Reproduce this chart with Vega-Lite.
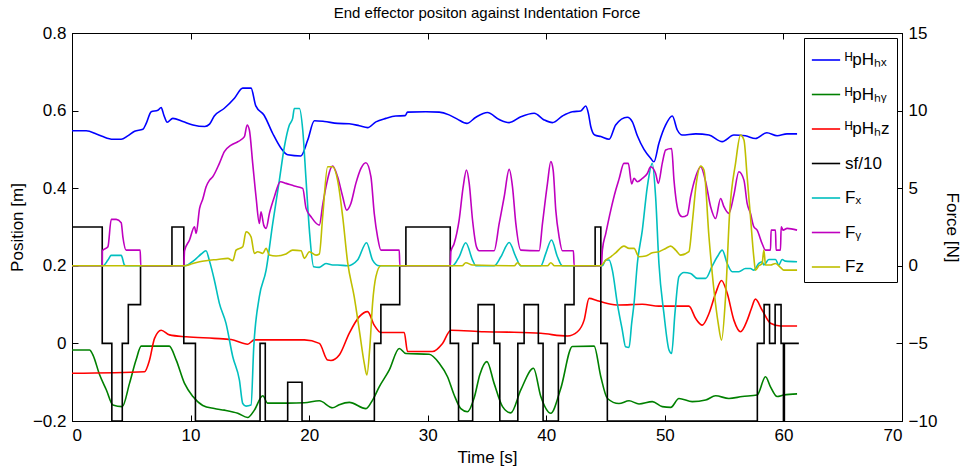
{
"$schema": "https://vega.github.io/schema/vega-lite/v6.json",
"width": 830, "height": 388,
"autosize": {"type": "none"},
"padding": {"left": 72, "top": 33, "right": 62, "bottom": 49},
"background": "white",
"title": {"text": "End effector positon against Indentation Force", "font": "Liberation Sans", "fontSize": 15, "fontWeight": "normal", "color": "black", "offset": 3},
"config": {
 "view": {"stroke": "black", "strokeWidth": 1},
 "axis": {"grid": false, "domainColor": "black", "tickColor": "black", "labelColor": "black", "titleColor": "black", "labelFont": "Liberation Sans", "titleFont": "Liberation Sans", "labelFontSize": 17, "titleFontSize": 17, "titleFontWeight": "normal", "tickSize": -6, "labelPadding": 12},
 "legend": {"labelFont": "Liberation Sans"},
 "line": {"strokeWidth": 1.6}
},
"datasets": {
"pos": [
{"s":"hx","t":0,"v":0.548},{"s":"hx","t":1.2,"v":0.548},{"s":"hx","t":2.05,"v":0.54},{"s":"hx","t":2.6,"v":0.533},{"s":"hx","t":3.45,"v":0.526},{"s":"hx","t":4.15,"v":0.526},{"s":"hx","t":4.7,"v":0.535},{"s":"hx","t":5.28,"v":0.547},{"s":"hx","t":5.98,"v":0.552},{"s":"hx","t":6.26,"v":0.567},{"s":"hx","t":6.68,"v":0.597},{"s":"hx","t":7.24,"v":0.601},{"s":"hx","t":7.52,"v":0.608},{"s":"hx","t":7.75,"v":0.588},{"s":"hx","t":8.03,"v":0.57},{"s":"hx","t":8.5,"v":0.58},{"s":"hx","t":9.35,"v":0.572},{"s":"hx","t":10.2,"v":0.563},{"s":"hx","t":11.2,"v":0.559},{"s":"hx","t":11.6,"v":0.565},{"s":"hx","t":12.0,"v":0.586},{"s":"hx","t":12.85,"v":0.606},{"s":"hx","t":13.7,"v":0.632},{"s":"hx","t":14.4,"v":0.658},{"s":"hx","t":15.1,"v":0.658},{"s":"hx","t":15.5,"v":0.612},{"s":"hx","t":16.2,"v":0.588},{"s":"hx","t":16.93,"v":0.541},{"s":"hx","t":17.63,"v":0.503},{"s":"hx","t":18.19,"v":0.486},{"s":"hx","t":19.3,"v":0.483},{"s":"hx","t":19.88,"v":0.524},{"s":"hx","t":20.44,"v":0.574},{"s":"hx","t":21.28,"v":0.572},{"s":"hx","t":22.4,"v":0.567},{"s":"hx","t":23.38,"v":0.566},{"s":"hx","t":24.23,"v":0.561},{"s":"hx","t":24.93,"v":0.556},{"s":"hx","t":25.63,"v":0.571},{"s":"hx","t":26.47,"v":0.58},{"s":"hx","t":27.3,"v":0.586},{"s":"hx","t":28.1,"v":0.587},{"s":"hx","t":28.3,"v":0.596},{"s":"hx","t":29.84,"v":0.597},{"s":"hx","t":30.97,"v":0.596},{"s":"hx","t":31.8,"v":0.589},{"s":"hx","t":32.5,"v":0.578},{"s":"hx","t":33.3,"v":0.567},{"s":"hx","t":34.06,"v":0.583},{"s":"hx","t":35.04,"v":0.595},{"s":"hx","t":36.03,"v":0.577},{"s":"hx","t":36.87,"v":0.569},{"s":"hx","t":37.85,"v":0.584},{"s":"hx","t":38.98,"v":0.593},{"s":"hx","t":39.82,"v":0.576},{"s":"hx","t":40.52,"v":0.569},{"s":"hx","t":41.36,"v":0.586},{"s":"hx","t":42.2,"v":0.597},{"s":"hx","t":42.9,"v":0.599},{"s":"hx","t":43.33,"v":0.612},{"s":"hx","t":43.55,"v":0.593},{"s":"hx","t":43.75,"v":0.559},{"s":"hx","t":44.09,"v":0.537},{"s":"hx","t":44.6,"v":0.533},{"s":"hx","t":45.3,"v":0.526},{"s":"hx","t":45.85,"v":0.563},{"s":"hx","t":46.83,"v":0.583},{"s":"hx","t":47.26,"v":0.571},{"s":"hx","t":47.68,"v":0.535},{"s":"hx","t":48.24,"v":0.5},{"s":"hx","t":48.8,"v":0.477},{"s":"hx","t":49.08,"v":0.468},{"s":"hx","t":49.5,"v":0.516},{"s":"hx","t":50.07,"v":0.563},{"s":"hx","t":50.63,"v":0.586},{"s":"hx","t":51.05,"v":0.55},{"s":"hx","t":51.47,"v":0.537},{"s":"hx","t":52.6,"v":0.54},{"s":"hx","t":53.72,"v":0.537},{"s":"hx","t":54.84,"v":0.52},{"s":"hx","t":55.82,"v":0.537},{"s":"hx","t":56.8,"v":0.535},{"s":"hx","t":57.64,"v":0.528},{"s":"hx","t":58.6,"v":0.543},{"s":"hx","t":59.47,"v":0.535},{"s":"hx","t":60.3,"v":0.54},{"s":"hx","t":61.15,"v":0.54},
{"s":"hy","t":0,"v":-0.017},{"s":"hy","t":1.48,"v":-0.017},{"s":"hy","t":1.77,"v":-0.03},{"s":"hy","t":2.33,"v":-0.081},{"s":"hy","t":2.9,"v":-0.12},{"s":"hy","t":3.45,"v":-0.159},{"s":"hy","t":4.24,"v":-0.163},{"s":"hy","t":4.85,"v":-0.103},{"s":"hy","t":5.4,"v":-0.043},{"s":"hy","t":5.84,"v":-0.007},{"s":"hy","t":8.2,"v":-0.007},{"s":"hy","t":8.79,"v":-0.043},{"s":"hy","t":9.49,"v":-0.103},{"s":"hy","t":10.2,"v":-0.137},{"s":"hy","t":11.03,"v":-0.16},{"s":"hy","t":12.0,"v":-0.168},{"s":"hy","t":12.85,"v":-0.172},{"s":"hy","t":13.98,"v":-0.18},{"s":"hy","t":14.82,"v":-0.191},{"s":"hy","t":15.38,"v":-0.172},{"s":"hy","t":16.09,"v":-0.135},{"s":"hy","t":16.5,"v":-0.154},{"s":"hy","t":18.19,"v":-0.154},{"s":"hy","t":19.6,"v":-0.153},{"s":"hy","t":20.86,"v":-0.148},{"s":"hy","t":21.98,"v":-0.166},{"s":"hy","t":22.54,"v":-0.158},{"s":"hy","t":23.39,"v":-0.152},{"s":"hy","t":24.79,"v":-0.168},{"s":"hy","t":25.35,"v":-0.146},{"s":"hy","t":25.91,"v":-0.112},{"s":"hy","t":26.75,"v":-0.069},{"s":"hy","t":27.6,"v":-0.013},{"s":"hy","t":28.16,"v":-0.026},{"s":"hy","t":30.12,"v":-0.028},{"s":"hy","t":30.97,"v":-0.051},{"s":"hy","t":31.67,"v":-0.086},{"s":"hy","t":32.23,"v":-0.133},{"s":"hy","t":32.79,"v":-0.168},{"s":"hy","t":33.35,"v":-0.176},{"s":"hy","t":33.92,"v":-0.14},{"s":"hy","t":34.4,"v":-0.08},{"s":"hy","t":34.99,"v":-0.047},{"s":"hy","t":35.6,"v":-0.103},{"s":"hy","t":36.31,"v":-0.163},{"s":"hy","t":37.01,"v":-0.179},{"s":"hy","t":37.85,"v":-0.12},{"s":"hy","t":38.92,"v":-0.064},{"s":"hy","t":39.54,"v":-0.137},{"s":"hy","t":40.38,"v":-0.18},{"s":"hy","t":41.22,"v":-0.116},{"s":"hy","t":42.2,"v":-0.008},{"s":"hy","t":44.03,"v":-0.007},{"s":"hy","t":44.6,"v":-0.086},{"s":"hy","t":45.16,"v":-0.142},{"s":"hy","t":46.13,"v":-0.155},{"s":"hy","t":46.98,"v":-0.148},{"s":"hy","t":47.82,"v":-0.156},{"s":"hy","t":48.94,"v":-0.15},{"s":"hy","t":49.78,"v":-0.163},{"s":"hy","t":50.49,"v":-0.165},{"s":"hy","t":51.19,"v":-0.142},{"s":"hy","t":52.31,"v":-0.15},{"s":"hy","t":53.44,"v":-0.146},{"s":"hy","t":54.28,"v":-0.135},{"s":"hy","t":55.4,"v":-0.142},{"s":"hy","t":56.53,"v":-0.137},{"s":"hy","t":57.78,"v":-0.133},{"s":"hy","t":58.49,"v":-0.086},{"s":"hy","t":58.91,"v":-0.112},{"s":"hy","t":59.47,"v":-0.137},{"s":"hy","t":60.03,"v":-0.133},{"s":"hy","t":61.15,"v":-0.13},
{"s":"hz","t":0,"v":-0.077},{"s":"hz","t":6.12,"v":-0.073},{"s":"hz","t":6.54,"v":-0.043},{"s":"hz","t":6.96,"v":0.013},{"s":"hz","t":7.52,"v":0.034},{"s":"hz","t":8.22,"v":0.022},{"s":"hz","t":9.63,"v":0.017},{"s":"hz","t":12.0,"v":0.013},{"s":"hz","t":13.42,"v":0.01},{"s":"hz","t":14.82,"v":-0.002},{"s":"hz","t":15.38,"v":0.009},{"s":"hz","t":19.6,"v":0.009},{"s":"hz","t":20.86,"v":0},{"s":"hz","t":21.56,"v":-0.043},{"s":"hz","t":21.84,"v":-0.044},{"s":"hz","t":22.54,"v":-0.03},{"s":"hz","t":23.38,"v":0.026},{"s":"hz","t":24.23,"v":0.069},{"s":"hz","t":24.93,"v":0.082},{"s":"hz","t":25.49,"v":0.047},{"s":"hz","t":26.05,"v":0.028},{"s":"hz","t":28.02,"v":0.028},{"s":"hz","t":28.3,"v":-0.021},{"s":"hz","t":30.4,"v":-0.021},{"s":"hz","t":31.25,"v":0},{"s":"hz","t":31.95,"v":0.034},{"s":"hz","t":34.76,"v":0.03},{"s":"hz","t":36.73,"v":0.029},{"s":"hz","t":39.54,"v":0.026},{"s":"hz","t":41.79,"v":0.019},{"s":"hz","t":42.63,"v":0.03},{"s":"hz","t":43.19,"v":0.06},{"s":"hz","t":43.61,"v":0.116},{"s":"hz","t":44.31,"v":0.11},{"s":"hz","t":45.16,"v":0.103},{"s":"hz","t":46.14,"v":0.099},{"s":"hz","t":48.1,"v":0.101},{"s":"hz","t":49.5,"v":0.096},{"s":"hz","t":52.03,"v":0.096},{"s":"hz","t":52.6,"v":0.064},{"s":"hz","t":53.16,"v":0.047},{"s":"hz","t":53.72,"v":0.077},{"s":"hz","t":54.28,"v":0.129},{"s":"hz","t":54.78,"v":0.162},{"s":"hz","t":55.26,"v":0.129},{"s":"hz","t":55.82,"v":0.06},{"s":"hz","t":56.38,"v":0.03},{"s":"hz","t":56.95,"v":0.06},{"s":"hz","t":57.3,"v":0.09},{"s":"hz","t":57.64,"v":0.114},{"s":"hz","t":58.2,"v":0.086},{"s":"hz","t":58.91,"v":0.052},{"s":"hz","t":59.75,"v":0.045},{"s":"hz","t":61.15,"v":0.045}
],
"sf": [
{"s":"sf","t":0,"v":0.3},{"s":"sf","t":2.55,"v":0},{"s":"sf","t":3.36,"v":-0.2},{"s":"sf","t":4.24,"v":0},{"s":"sf","t":4.75,"v":0.1},{"s":"sf","t":5.78,"v":0.2},{"s":"sf","t":8.43,"v":0.3},{"s":"sf","t":9.43,"v":0},{"s":"sf","t":10.41,"v":-0.2},{"s":"sf","t":15.86,"v":0},{"s":"sf","t":16.3,"v":-0.2},{"s":"sf","t":18.19,"v":-0.1},{"s":"sf","t":19.4,"v":-0.2},{"s":"sf","t":25.5,"v":0},{"s":"sf","t":26.05,"v":0.1},{"s":"sf","t":27.64,"v":0.2},{"s":"sf","t":28.16,"v":0.3},{"s":"sf","t":31.9,"v":0},{"s":"sf","t":32.6,"v":-0.2},{"s":"sf","t":33.79,"v":0},{"s":"sf","t":34.25,"v":0.1},{"s":"sf","t":35.6,"v":0},{"s":"sf","t":36.08,"v":-0.2},{"s":"sf","t":37.6,"v":0},{"s":"sf","t":38.13,"v":0.1},{"s":"sf","t":39.33,"v":0},{"s":"sf","t":39.73,"v":-0.2},{"s":"sf","t":41.02,"v":0},{"s":"sf","t":41.58,"v":0.1},{"s":"sf","t":42.34,"v":0.2},{"s":"sf","t":44.12,"v":0.3},{"s":"sf","t":44.6,"v":0},{"s":"sf","t":45.15,"v":-0.2},{"s":"sf","t":57.8,"v":0},{"s":"sf","t":58.37,"v":0.1},{"s":"sf","t":58.83,"v":0},{"s":"sf","t":59.3,"v":0.1},{"s":"sf","t":59.8,"v":0},{"s":"sf","t":60.0,"v":-0.2},{"s":"sf","t":60.08,"v":0},{"s":"sf","t":61.3,"v":0}
],
"force": [
{"s":"Fx","t":0,"v":0},{"s":"Fx","t":2.6,"v":0},{"s":"Fx","t":3.03,"v":0.37},{"s":"Fx","t":3.31,"v":0.67},{"s":"Fx","t":4.15,"v":0.67},{"s":"Fx","t":4.43,"v":0.05},{"s":"Fx","t":4.6,"v":0},{"s":"Fx","t":9.49,"v":0},{"s":"Fx","t":10.33,"v":0.37},{"s":"Fx","t":10.9,"v":0.76},{"s":"Fx","t":11.3,"v":0.97},{"s":"Fx","t":11.6,"v":0.3},{"s":"Fx","t":12.0,"v":-0.9},{"s":"Fx","t":12.43,"v":-2.42},{"s":"Fx","t":12.99,"v":-3.71},{"s":"Fx","t":13.56,"v":-5.86},{"s":"Fx","t":14.12,"v":-7.36},{"s":"Fx","t":14.4,"v":-8.87},{"s":"Fx","t":14.68,"v":-9.04},{"s":"Fx","t":15.1,"v":-8.97},{"s":"Fx","t":15.33,"v":-5.22},{"s":"Fx","t":15.8,"v":-1.99},{"s":"Fx","t":16.37,"v":-0.28},{"s":"Fx","t":16.93,"v":2.73},{"s":"Fx","t":17.49,"v":5.52},{"s":"Fx","t":17.91,"v":7.67},{"s":"Fx","t":18.33,"v":9.07},{"s":"Fx","t":18.61,"v":9.5},{"s":"Fx","t":18.75,"v":10.14},{"s":"Fx","t":19.18,"v":10.14},{"s":"Fx","t":19.46,"v":8.75},{"s":"Fx","t":19.74,"v":5.52},{"s":"Fx","t":20.02,"v":2.3},{"s":"Fx","t":20.38,"v":-0.06},{"s":"Fx","t":20.86,"v":-0.1},{"s":"Fx","t":21.42,"v":0.15},{"s":"Fx","t":21.98,"v":0.05},{"s":"Fx","t":22.4,"v":0.05},{"s":"Fx","t":23.24,"v":0},{"s":"Fx","t":24.08,"v":0.37},{"s":"Fx","t":24.84,"v":1.49},{"s":"Fx","t":25.35,"v":0.37},{"s":"Fx","t":25.91,"v":0},{"s":"Fx","t":32.09,"v":0},{"s":"Fx","t":32.65,"v":0.58},{"s":"Fx","t":33.21,"v":1.49},{"s":"Fx","t":33.78,"v":0.37},{"s":"Fx","t":34.06,"v":0},{"s":"Fx","t":35.6,"v":0},{"s":"Fx","t":36.17,"v":0.58},{"s":"Fx","t":36.87,"v":1.5},{"s":"Fx","t":37.43,"v":0.58},{"s":"Fx","t":37.85,"v":0},{"s":"Fx","t":39.54,"v":0},{"s":"Fx","t":39.96,"v":0.8},{"s":"Fx","t":40.44,"v":1.66},{"s":"Fx","t":40.94,"v":0.58},{"s":"Fx","t":41.36,"v":0},{"s":"Fx","t":44.73,"v":0},{"s":"Fx","t":45.02,"v":0.37},{"s":"Fx","t":45.3,"v":0.37},{"s":"Fx","t":45.57,"v":-0.28},{"s":"Fx","t":45.99,"v":-2.42},{"s":"Fx","t":46.41,"v":-4.14},{"s":"Fx","t":46.69,"v":-5.22},{"s":"Fx","t":46.98,"v":-5.26},{"s":"Fx","t":47.2,"v":-3.71},{"s":"Fx","t":47.4,"v":-2.42},{"s":"Fx","t":47.68,"v":0.15},{"s":"Fx","t":48.1,"v":2.3},{"s":"Fx","t":48.52,"v":5.09},{"s":"Fx","t":48.94,"v":6.6},{"s":"Fx","t":49.22,"v":4.45},{"s":"Fx","t":49.5,"v":0.15},{"s":"Fx","t":49.92,"v":-3.07},{"s":"Fx","t":50.35,"v":-5.43},{"s":"Fx","t":50.57,"v":-5.65},{"s":"Fx","t":50.85,"v":-3.07},{"s":"Fx","t":51.19,"v":-0.7},{"s":"Fx","t":51.61,"v":-0.43},{"s":"Fx","t":52.17,"v":-0.49},{"s":"Fx","t":52.73,"v":-0.81},{"s":"Fx","t":53.44,"v":-0.81},{"s":"Fx","t":54.0,"v":0},{"s":"Fx","t":54.42,"v":0.58},{"s":"Fx","t":54.84,"v":1.01},{"s":"Fx","t":55.26,"v":0.15},{"s":"Fx","t":55.68,"v":-0.38},{"s":"Fx","t":56.24,"v":-0.38},{"s":"Fx","t":56.8,"v":-0.17},{"s":"Fx","t":57.22,"v":-0.17},{"s":"Fx","t":57.5,"v":-0.28},{"s":"Fx","t":57.92,"v":0.15},{"s":"Fx","t":58.2,"v":0.26},{"s":"Fx","t":58.35,"v":0.05},{"s":"Fx","t":58.77,"v":0.41},{"s":"Fx","t":59.33,"v":0.41},{"s":"Fx","t":59.61,"v":0.05},{"s":"Fx","t":59.89,"v":0.41},{"s":"Fx","t":60.17,"v":0.3},{"s":"Fx","t":61.15,"v":0.26},
{"s":"Fy","t":0,"v":0},{"s":"Fy","t":2.55,"v":0},{"s":"Fy","t":2.56,"v":0.97},{"s":"Fy","t":3.03,"v":1.23},{"s":"Fy","t":3.31,"v":2.99},{"s":"Fy","t":3.73,"v":2.99},{"s":"Fy","t":4.15,"v":2.78},{"s":"Fy","t":4.29,"v":1.87},{"s":"Fy","t":4.57,"v":1.01},{"s":"Fy","t":5.75,"v":1.01},{"s":"Fy","t":5.8,"v":0},{"s":"Fy","t":9.43,"v":0},{"s":"Fy","t":9.49,"v":0.97},{"s":"Fy","t":9.91,"v":1.66},{"s":"Fy","t":10.33,"v":2.52},{"s":"Fy","t":10.47,"v":2.09},{"s":"Fy","t":10.76,"v":3.7},{"s":"Fy","t":11.03,"v":4.3},{"s":"Fy","t":11.31,"v":5.09},{"s":"Fy","t":11.6,"v":5.52},{"s":"Fy","t":11.87,"v":5.74},{"s":"Fy","t":12.43,"v":6.6},{"s":"Fy","t":12.85,"v":7.35},{"s":"Fy","t":13.42,"v":7.78},{"s":"Fy","t":13.98,"v":7.99},{"s":"Fy","t":14.54,"v":8.32},{"s":"Fy","t":14.77,"v":9.07},{"s":"Fy","t":14.96,"v":8.75},{"s":"Fy","t":15.24,"v":6.6},{"s":"Fy","t":15.52,"v":4.45},{"s":"Fy","t":15.8,"v":2.73},{"s":"Fy","t":15.94,"v":3.48},{"s":"Fy","t":16.17,"v":2.62},{"s":"Fy","t":16.37,"v":2.41},{"s":"Fy","t":16.65,"v":3.38},{"s":"Fy","t":17.07,"v":4.45},{"s":"Fy","t":17.57,"v":5.42},{"s":"Fy","t":18.05,"v":5.31},{"s":"Fy","t":18.75,"v":5.14},{"s":"Fy","t":19.46,"v":4.99},{"s":"Fy","t":19.74,"v":3.7},{"s":"Fy","t":20.16,"v":3.16},{"s":"Fy","t":20.86,"v":2.62},{"s":"Fy","t":21.14,"v":3.91},{"s":"Fy","t":21.42,"v":5.09},{"s":"Fy","t":21.98,"v":6.43},{"s":"Fy","t":22.4,"v":5.74},{"s":"Fy","t":22.83,"v":4.45},{"s":"Fy","t":23.16,"v":3.59},{"s":"Fy","t":23.52,"v":4.02},{"s":"Fy","t":23.94,"v":5.31},{"s":"Fy","t":24.37,"v":6.28},{"s":"Fy","t":24.79,"v":6.64},{"s":"Fy","t":25.21,"v":5.74},{"s":"Fy","t":25.49,"v":3.38},{"s":"Fy","t":25.77,"v":1.87},{"s":"Fy","t":26.05,"v":1.01},{"s":"Fy","t":27.6,"v":1.01},{"s":"Fy","t":27.65,"v":0},{"s":"Fy","t":31.9,"v":0},{"s":"Fy","t":31.95,"v":0.91},{"s":"Fy","t":32.23,"v":1.44},{"s":"Fy","t":32.65,"v":2.95},{"s":"Fy","t":32.99,"v":5.09},{"s":"Fy","t":33.27,"v":6.17},{"s":"Fy","t":33.5,"v":5.31},{"s":"Fy","t":33.78,"v":2.95},{"s":"Fy","t":34.11,"v":1.23},{"s":"Fy","t":34.34,"v":0.97},{"s":"Fy","t":35.6,"v":0.97},{"s":"Fy","t":36.03,"v":2.73},{"s":"Fy","t":36.45,"v":4.45},{"s":"Fy","t":36.87,"v":6.21},{"s":"Fy","t":37.15,"v":5.09},{"s":"Fy","t":37.43,"v":2.73},{"s":"Fy","t":37.85,"v":1.01},{"s":"Fy","t":39.4,"v":0.97},{"s":"Fy","t":39.68,"v":2.73},{"s":"Fy","t":40.1,"v":5.31},{"s":"Fy","t":40.38,"v":6.71},{"s":"Fy","t":40.58,"v":6.17},{"s":"Fy","t":40.8,"v":3.59},{"s":"Fy","t":41.08,"v":1.87},{"s":"Fy","t":41.36,"v":0.97},{"s":"Fy","t":42.29,"v":0.97},{"s":"Fy","t":42.35,"v":0},{"s":"Fy","t":44.65,"v":0},{"s":"Fy","t":44.73,"v":1.01},{"s":"Fy","t":45.02,"v":2.09},{"s":"Fy","t":45.44,"v":3.59},{"s":"Fy","t":45.86,"v":4.88},{"s":"Fy","t":46.14,"v":5.6},{"s":"Fy","t":46.55,"v":6.6},{"s":"Fy","t":46.92,"v":6.6},{"s":"Fy","t":47.2,"v":5.27},{"s":"Fy","t":47.4,"v":5.63},{"s":"Fy","t":47.68,"v":5.42},{"s":"Fy","t":48.1,"v":5.63},{"s":"Fy","t":48.52,"v":5.95},{"s":"Fy","t":48.8,"v":6.38},{"s":"Fy","t":49.22,"v":5.95},{"s":"Fy","t":49.45,"v":5.31},{"s":"Fy","t":49.78,"v":6.6},{"s":"Fy","t":50.07,"v":7.46},{"s":"Fy","t":50.57,"v":7.56},{"s":"Fy","t":50.77,"v":5.52},{"s":"Fy","t":51.19,"v":3.38},{"s":"Fy","t":51.47,"v":3.16},{"s":"Fy","t":51.89,"v":3.27},{"s":"Fy","t":52.17,"v":4.45},{"s":"Fy","t":52.6,"v":5.74},{"s":"Fy","t":53.02,"v":6.38},{"s":"Fy","t":53.44,"v":5.42},{"s":"Fy","t":53.86,"v":3.81},{"s":"Fy","t":54.28,"v":3.05},{"s":"Fy","t":54.7,"v":4.34},{"s":"Fy","t":54.98,"v":3.81},{"s":"Fy","t":55.4,"v":3.38},{"s":"Fy","t":55.82,"v":4.56},{"s":"Fy","t":56.24,"v":6.06},{"s":"Fy","t":56.67,"v":5.52},{"s":"Fy","t":56.94,"v":4.02},{"s":"Fy","t":57.22,"v":3.38},{"s":"Fy","t":57.5,"v":2.52},{"s":"Fy","t":57.78,"v":2.3},{"s":"Fy","t":58.2,"v":1.44},{"s":"Fy","t":58.49,"v":1.01},{"s":"Fy","t":58.91,"v":1.01},{"s":"Fy","t":58.96,"v":2.3},{"s":"Fy","t":59.33,"v":2.3},{"s":"Fy","t":59.38,"v":1.01},{"s":"Fy","t":59.75,"v":1.01},{"s":"Fy","t":59.81,"v":2.52},{"s":"Fy","t":59.97,"v":2.3},{"s":"Fy","t":60.31,"v":2.41},{"s":"Fy","t":61.15,"v":2.3},
{"s":"Fz","t":0,"v":0},{"s":"Fz","t":9.49,"v":0},{"s":"Fz","t":10.2,"v":0.15},{"s":"Fz","t":10.76,"v":0.26},{"s":"Fz","t":11.31,"v":0.33},{"s":"Fz","t":12.29,"v":0.41},{"s":"Fz","t":13.14,"v":0.48},{"s":"Fz","t":13.56,"v":0.33},{"s":"Fz","t":13.84,"v":1.01},{"s":"Fz","t":14.4,"v":1.23},{"s":"Fz","t":14.68,"v":2.19},{"s":"Fz","t":15.1,"v":1.87},{"s":"Fz","t":15.38,"v":0.8},{"s":"Fz","t":15.66,"v":0.91},{"s":"Fz","t":16.09,"v":0.8},{"s":"Fz","t":16.37,"v":1.12},{"s":"Fz","t":16.65,"v":0.69},{"s":"Fz","t":17.21,"v":0.63},{"s":"Fz","t":18.05,"v":0.76},{"s":"Fz","t":18.61,"v":1.01},{"s":"Fz","t":19.32,"v":0.97},{"s":"Fz","t":19.6,"v":0.48},{"s":"Fz","t":20.02,"v":0.91},{"s":"Fz","t":20.58,"v":0.69},{"s":"Fz","t":20.86,"v":0.76},{"s":"Fz","t":21.14,"v":3.16},{"s":"Fz","t":21.56,"v":6.38},{"s":"Fz","t":21.98,"v":6.38},{"s":"Fz","t":22.4,"v":5.52},{"s":"Fz","t":22.83,"v":3.16},{"s":"Fz","t":23.25,"v":0.2},{"s":"Fz","t":23.8,"v":-1.99},{"s":"Fz","t":24.23,"v":-4.14},{"s":"Fz","t":24.65,"v":-6.29},{"s":"Fz","t":24.87,"v":-7.04},{"s":"Fz","t":25.12,"v":-5.22},{"s":"Fz","t":25.35,"v":-2.42},{"s":"Fz","t":25.63,"v":-0.7},{"s":"Fz","t":26.05,"v":0},{"s":"Fz","t":32.9,"v":0},{"s":"Fz","t":33.21,"v":0.2},{"s":"Fz","t":33.78,"v":0.05},{"s":"Fz","t":37.3,"v":0},{"s":"Fz","t":37.57,"v":0.2},{"s":"Fz","t":37.9,"v":0},{"s":"Fz","t":40.1,"v":0},{"s":"Fz","t":40.38,"v":0.2},{"s":"Fz","t":40.7,"v":0},{"s":"Fz","t":44.6,"v":0},{"s":"Fz","t":45.02,"v":0.37},{"s":"Fz","t":45.44,"v":0.58},{"s":"Fz","t":45.85,"v":0.84},{"s":"Fz","t":46.55,"v":1.27},{"s":"Fz","t":46.98,"v":1.12},{"s":"Fz","t":47.4,"v":1.12},{"s":"Fz","t":47.82,"v":0.58},{"s":"Fz","t":48.38,"v":0.63},{"s":"Fz","t":48.94,"v":0.84},{"s":"Fz","t":49.5,"v":0.91},{"s":"Fz","t":50.07,"v":1.12},{"s":"Fz","t":50.49,"v":1.27},{"s":"Fz","t":50.91,"v":1.01},{"s":"Fz","t":51.33,"v":0.69},{"s":"Fz","t":52.03,"v":0.91},{"s":"Fz","t":52.31,"v":2.73},{"s":"Fz","t":52.65,"v":5.31},{"s":"Fz","t":53.02,"v":6.43},{"s":"Fz","t":53.3,"v":6.17},{"s":"Fz","t":53.72,"v":1.87},{"s":"Fz","t":54.14,"v":-1.56},{"s":"Fz","t":54.5,"v":-3.71},{"s":"Fz","t":54.78,"v":-4.79},{"s":"Fz","t":55.12,"v":-1.99},{"s":"Fz","t":55.46,"v":3.38},{"s":"Fz","t":55.96,"v":6.6},{"s":"Fz","t":56.38,"v":8.42},{"s":"Fz","t":56.67,"v":8.1},{"s":"Fz","t":56.94,"v":5.74},{"s":"Fz","t":57.22,"v":3.16},{"s":"Fz","t":57.5,"v":0.58},{"s":"Fz","t":57.64,"v":-0.28},{"s":"Fz","t":57.92,"v":0},{"s":"Fz","t":58.2,"v":0.15},{"s":"Fz","t":58.35,"v":1.01},{"s":"Fz","t":58.49,"v":0.05},{"s":"Fz","t":58.91,"v":0.05},{"s":"Fz","t":59.33,"v":0.15},{"s":"Fz","t":59.75,"v":-0.1},{"s":"Fz","t":60.03,"v":-0.28},{"s":"Fz","t":61.15,"v":-0.28}
]
},
"layer": [
 {"layer": [
  {"data": {"name": "pos"}, "mark": {"type": "line", "strokeWidth": 1.6, "interpolate": "monotone"},
   "encoding": {
    "x": {"field": "t", "type": "quantitative", "scale": {"domain": [0, 70], "nice": false}, "axis": {"orient": "bottom", "title": "Time [s]", "values": [0,10,20,30,40,50,60,70], "format": "d", "titlePadding": 6}},
    "y": {"field": "v", "type": "quantitative", "scale": {"domain": [-0.2, 0.8], "nice": false, "zero": false}, "axis": {"orient": "left", "title": "Position [m]", "values": [-0.2,0,0.2,0.4,0.6,0.8], "labelExpr": "datum.value == 0 ? '0' : format(datum.value, '.1f')", "titlePadding": 6}},
    "color": {"field": "s", "type": "nominal", "scale": {"domain": ["hx","hy","hz","sf","Fx","Fy","Fz"], "range": ["#0000ff","#008000","#ff0000","#000000","#00bfbf","#bf00bf","#bfbf00"]},
      "legend": {"title": null, "orient": "top-right", "offset": 5, "strokeColor": "black", "fillColor": "white", "padding": 7, "symbolType": "stroke", "symbolSize": 800, "symbolStrokeWidth": 1.6, "labelFontSize": 17, "labelColor": "black", "labelOffset": 4, "rowPadding": 11.5, "cornerRadius": 0,
        "labelExpr": "{'hx':'ᴴpHₕₓ','hy':'ᴴpHₕᵧ','hz':'ᴴpHₕz','sf':'sf/10','Fx':'Fₓ','Fy':'Fᵧ','Fz':'Fz'}[datum.label]"}}
   }},
  {"data": {"name": "sf"}, "mark": {"type": "line", "interpolate": "step-after", "strokeWidth": 1.6},
   "encoding": {
    "x": {"field": "t", "type": "quantitative", "scale": {"domain": [0, 70], "nice": false}, "axis": {"orient": "bottom", "title": "Time [s]", "values": [0,10,20,30,40,50,60,70], "format": "d", "titlePadding": 6}},
    "y": {"field": "v", "type": "quantitative", "scale": {"domain": [-0.2, 0.8], "nice": false, "zero": false}},
    "color": {"field": "s", "type": "nominal"}
   }}
 ]},
 {"data": {"name": "force"}, "mark": {"type": "line", "strokeWidth": 1.6, "interpolate": "monotone"},
  "encoding": {
   "x": {"field": "t", "type": "quantitative", "scale": {"domain": [0, 70], "nice": false}, "axis": {"orient": "top", "labels": false, "title": null, "values": [0,10,20,30,40,50,60,70]}},
   "y": {"field": "v", "type": "quantitative", "scale": {"domain": [-10, 15], "nice": false, "zero": false}, "axis": {"orient": "right", "title": "Force [N]", "values": [-10,-5,0,5,10,15], "format": "d", "titlePadding": 6}},
   "color": {"field": "s", "type": "nominal"}
  }}
],
"resolve": {"scale": {"y": "independent"}, "axis": {"x": "independent"}}
}
